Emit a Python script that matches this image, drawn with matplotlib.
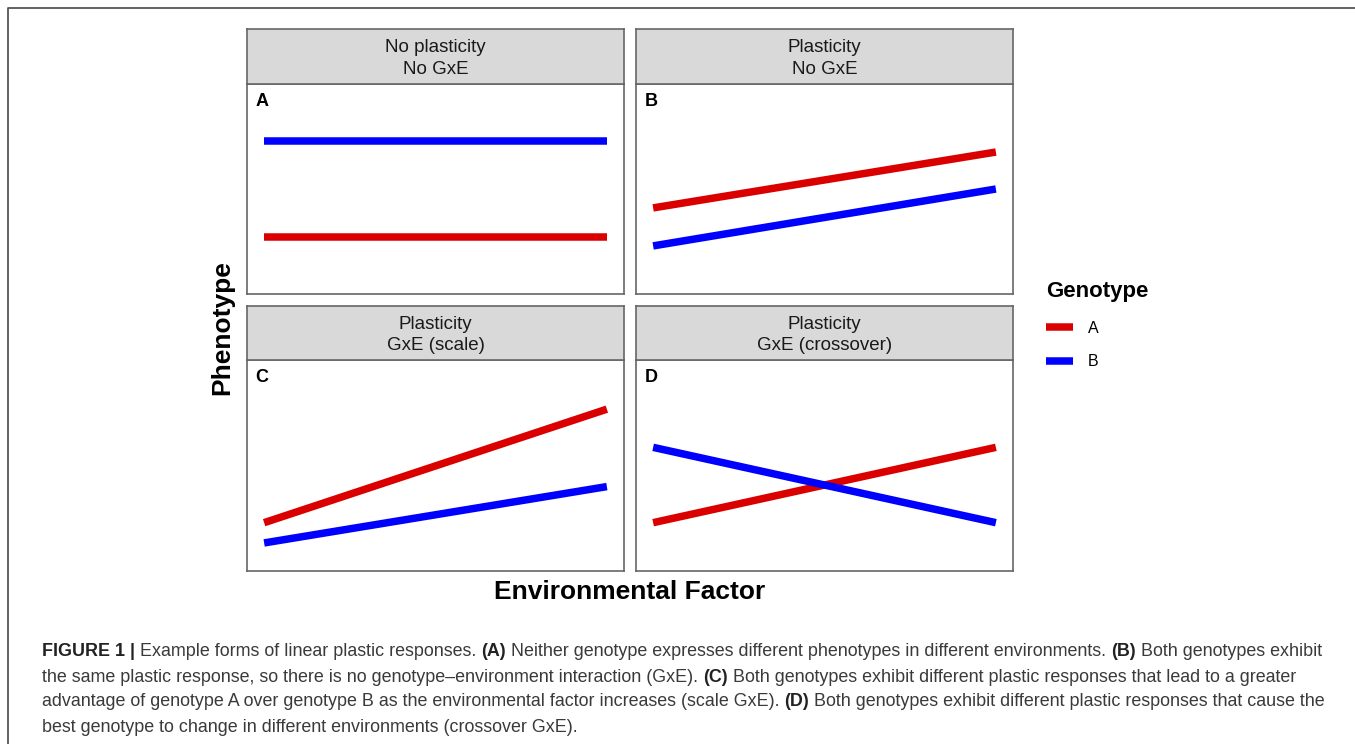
import matplotlib
matplotlib.use('Agg')
import matplotlib.pyplot as plt
from matplotlib.lines import Line2D
import numpy as np

plt.rcParams['font.family'] = ['Liberation Sans', 'DejaVu Sans']

# data
env = [0, 1]
panels = ['A', 'B', 'C', 'D']
strip_titles = ['No plasticity\nNo GxE', 'Plasticity\nNo GxE',
                'Plasticity\nGxE (scale)', 'Plasticity\nGxE (crossover)']
geno_a = [[2.71, 2.71], [4.10, 6.76], [2.29, 7.67], [2.29, 5.86]]
geno_b = [[7.29, 7.29], [2.29, 5.00], [1.33, 4.00], [5.86, 2.29]]
genotypes = ['A', 'B']
colors = {'A': '#DA0000', 'B': '#0000FF'}

caption = [
    [('FIGURE 1 | ', True), ('Example forms of linear plastic responses. ', False), ('(A)', True),
     (' Neither genotype expresses different phenotypes in different environments. ', False),
     ('(B)', True), (' Both genotypes exhibit', False)],
    [('the same plastic response, so there is no genotype\u2013environment interaction (GxE). ', False),
     ('(C)', True), (' Both genotypes exhibit different plastic responses that lead to a greater', False)],
    [('advantage of genotype A over genotype B as the environmental factor increases (scale GxE). ', False),
     ('(D)', True), (' Both genotypes exhibit different plastic responses that cause the', False)],
    [('best genotype to change in different environments (crossover GxE).', False)],
]

W, H = 1355, 744
fig = plt.figure(figsize=(W / 100, H / 100), dpi=100)


def fx(px):
    return px / W


def fy(py):
    return 1 - py / H


# panel pixel boxes (left, right) and (strip top, plot top, plot bottom)
cols = [(247, 624), (636, 1013)]
rows = [(29, 84, 294), (306, 360, 571)]

for i, name in enumerate(panels):
    (x0, x1) = cols[i % 2]
    (s0, p0, p1) = rows[i // 2]
    ax = fig.add_axes([fx(x0), fy(p1), fx(x1) - fx(x0), fy(p0) - fy(p1)])
    ax.plot(env, geno_a[i], color=colors['A'], lw=5.4, solid_capstyle='butt')
    ax.plot(env, geno_b[i], color=colors['B'], lw=5.4, solid_capstyle='butt')
    ax.set_xlim(-0.05, 1.05)
    ax.set_ylim(0, 10)
    ax.set_xticks([])
    ax.set_yticks([])
    for sp in ax.spines.values():
        sp.set_color('#666666')
        sp.set_linewidth(1.2)
    ax.text(0.022, 0.955, name, transform=ax.transAxes, ha='left', va='top',
            fontsize=13, fontweight='bold')

    sax = fig.add_axes([fx(x0), fy(p0), fx(x1) - fx(x0), fy(s0) - fy(p0)])
    sax.set_facecolor('#D9D9D9')
    sax.set_xticks([])
    sax.set_yticks([])
    for sp in sax.spines.values():
        sp.set_color('#666666')
        sp.set_linewidth(1.2)
    sax.text(0.5, 0.46, strip_titles[i], transform=sax.transAxes, ha='center', va='center',
             fontsize=13.5, color='#1a1a1a', linespacing=1.35)

fig.text(fx(222), fy(328), 'Phenotype', rotation=90, ha='center', va='center',
         fontsize=19, fontweight='bold')
fig.text(fx(630), fy(592), 'Environmental Factor', ha='center', va='center',
         fontsize=19, fontweight='bold')

handles = [Line2D([], [], color=colors[g], lw=5.4, solid_capstyle='butt') for g in genotypes]
leg = fig.legend(handles, genotypes, loc='upper left', bbox_to_anchor=(fx(1032), fy(267)),
                 frameon=False, fontsize=11.5, title='Genotype', handlelength=1.65,
                 handletextpad=0.95, labelspacing=1.15,
                 title_fontproperties={'weight': 'bold', 'size': 16})
leg._legend_box.align = 'left'

# outer frame
fig.add_artist(Line2D([fx(8), fx(8), 1], [0, fy(8), fy(8)], transform=fig.transFigure,
                      color='#555555', lw=1.3))

# caption, drawn run by run
renderer = fig.canvas.get_renderer()
line_y = [651, 677, 702, 727]
for runs, py in zip(caption, line_y):
    x = fx(42)
    for txt, bold in runs:
        t = fig.text(x, fy(py), txt, ha='left', va='center', fontsize=12.9,
                     fontweight='bold' if bold else 'normal',
                     color='#222222' if bold else '#3a3a3a')
        bb = t.get_window_extent(renderer=renderer)
        x += bb.width / W

fig.savefig('out.png', dpi=100)
